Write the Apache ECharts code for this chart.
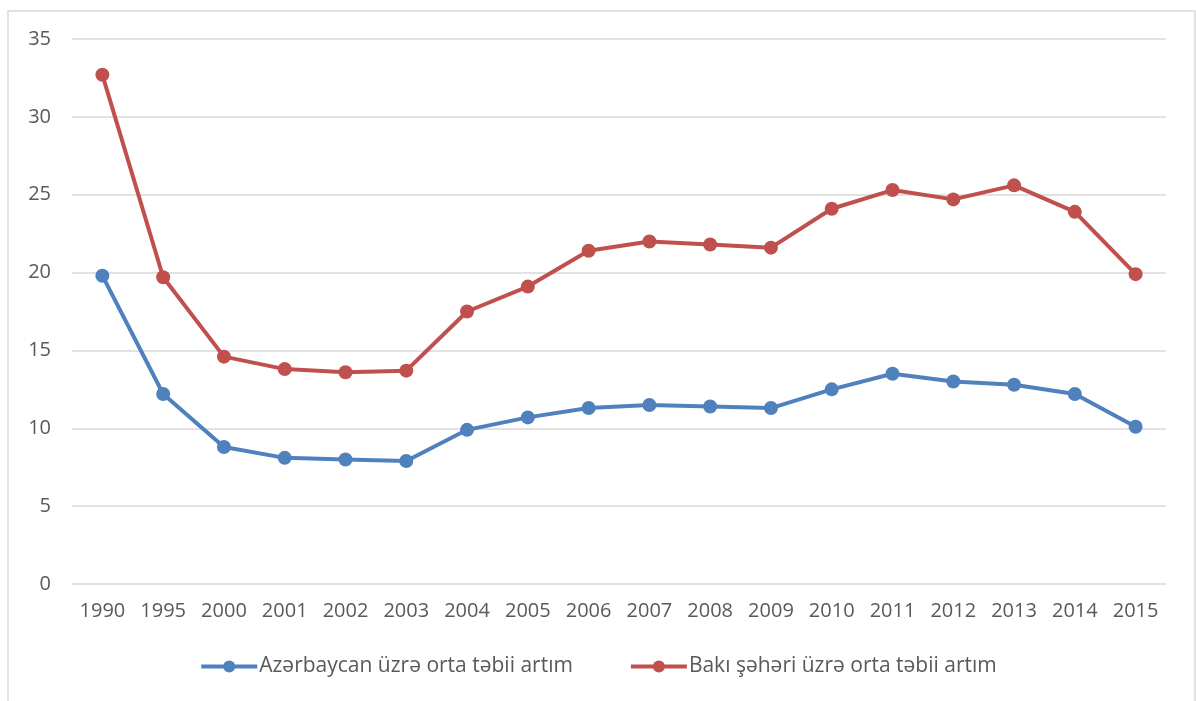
<!DOCTYPE html>
<html><head><meta charset="utf-8">
<script src="https://cdn.jsdelivr.net/npm/echarts@6/dist/echarts.min.js"></script>
<style>html,body{margin:0;padding:0;background:#fff}#c{width:1196px;height:701px}</style>
</head><body><div id="c"></div>
<script>
const categories = ['1990','1995','2000','2001','2002','2003','2004','2005','2006','2007','2008','2009','2010','2011','2012','2013','2014','2015'];
const azerbaijan = [19.8,12.2,8.8,8.1,8.0,7.9,9.9,10.7,11.3,11.5,11.4,11.3,12.5,13.5,13.0,12.8,12.2,10.1];
const baku = [32.7,19.7,14.6,13.8,13.6,13.7,17.5,19.1,21.4,22.0,21.8,21.6,24.1,25.3,24.7,25.6,23.9,19.9];
const seriesNames = ['Azərbaycan üzrə orta təbii artım','Bakı şəhəri üzrə orta təbii artım'];
const colors = ['#4F81BD','#C0504D'];
const font = '"Open Sans", "Liberation Sans", sans-serif';
const chart = echarts.init(document.getElementById('c'));
chart.setOption({
  animation:false,
  backgroundColor:'#fff',
  graphic:[{type:'polyline',shape:{points:[[8,701],[8,11],[1195,11],[1195,701]]},style:{stroke:'#d9d9d9',lineWidth:1.5,fill:null}}],
  grid:{left:72,right:30,top:39,bottom:117,containLabel:false},
  legend:{bottom:19,left:'center',itemGap:56,itemWidth:56,itemHeight:15,
    lineStyle:{width:4},
    textStyle:{color:'#595959',fontSize:21,fontFamily:font,padding:[0,0,0,-3]},
    data:seriesNames},
  xAxis:{type:'category',data:categories,boundaryGap:true,
    axisLine:{show:false},axisTick:{show:false},
    axisLabel:{color:'#595959',fontSize:20,fontFamily:font,margin:17}},
  yAxis:{type:'value',min:0,max:35,interval:5,
    axisLine:{show:false},axisTick:{show:false},
    splitLine:{lineStyle:{color:'#d9d9d9',width:1.5}},
    axisLabel:{color:'#595959',fontSize:20,fontFamily:font,margin:21}},
  series:[
    {name:seriesNames[0],type:'line',data:azerbaijan,color:colors[0],symbol:'circle',symbolSize:14,
      lineStyle:{width:4,color:colors[0]},itemStyle:{color:colors[0]}},
    {name:seriesNames[1],type:'line',data:baku,color:colors[1],symbol:'circle',symbolSize:14,
      lineStyle:{width:4,color:colors[1]},itemStyle:{color:colors[1]}}
  ]
});
</script></body></html>
